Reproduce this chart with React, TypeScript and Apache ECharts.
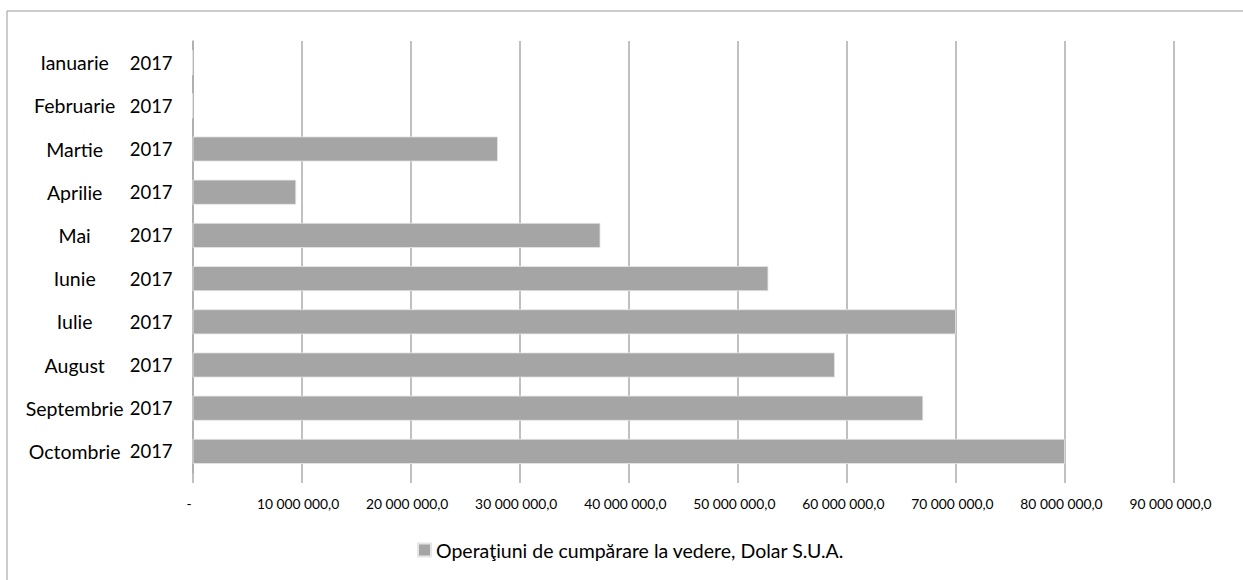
import React, { useEffect, useRef } from "react";
import * as echarts from "echarts";

const months = [
  "Ianuarie",
  "Februarie",
  "Martie",
  "Aprilie",
  "Mai",
  "Iunie",
  "Iulie",
  "August",
  "Septembrie",
  "Octombrie",
];
const year = "2017";
const values = [0, 0, 28000000, 9500000, 37400000, 52800000, 70000000, 58900000, 67000000, 80000000];
const seriesName = "Operaţiuni de cumpărare la vedere, Dolar S.U.A.";
const axisMax = 90000000;
const axisStep = 10000000;

function fmt(v: number): string {
  if (v === 0) return "-";
  const s = Math.round(v).toString().replace(/\B(?=(\d{3})+(?!\d))/g, " ");
  return s + ",0";
}

export default function App() {
  const ref = useRef<HTMLDivElement>(null);
  useEffect(() => {
    if (!ref.current) return;
    const chart = echarts.init(ref.current, undefined, { renderer: "svg" });
    const font = "Lato";
    chart.setOption({
      animation: false,
      backgroundColor: "#ffffff",
      graphic: [
        {
          type: "rect",
          shape: { x: 7, y: 11, width: 1400, height: 800 },
          style: { fill: "none", stroke: "#9a9a9a", lineWidth: 1 },
          silent: true,
        },
      ],
      grid: { left: 192.6, right: 69, top: 41, bottom: 107, containLabel: false },
      legend: {
        data: [seriesName],
        bottom: 15,
        left: 412,
        icon: "rect",
        itemWidth: 13,
        itemHeight: 13,
        itemGap: 6,
        textStyle: { fontFamily: font, fontSize: 19.5, color: "#000000" },
      },
      xAxis: {
        type: "value",
        min: 0,
        max: axisMax,
        interval: axisStep,
        axisLine: { show: false },
        axisTick: { show: true, length: 10, lineStyle: { color: "#ababab", width: 1.5 } },
        splitLine: { show: true, lineStyle: { color: "#ababab", width: 1.5 } },
        axisLabel: {
          formatter: (v: number) => fmt(v),
          fontFamily: font,
          fontSize: 13.8,
          color: "#000000",
          margin: 23,
          padding: [0, 7, 0, 0],
        },
      },
      yAxis: {
        type: "category",
        inverse: true,
        data: months,
        axisLine: { show: true, lineStyle: { color: "#ababab", width: 1.5 } },
        axisTick: { show: false },
        axisLabel: {
          margin: 20,
          formatter: (v: string) => `{m|${v}}{y|${year}}`,
          rich: {
            m: { width: 110, align: "center", fontFamily: font, fontSize: 19.5, color: "#000000" },
            y: { fontFamily: font, fontSize: 18.5, color: "#000000" },
          },
        },
      },
      series: [
        {
          name: seriesName,
          type: "bar",
          data: values,
          barWidth: 25,
          itemStyle: { color: "#a5a5a5", borderColor: "#e6e6e6", borderWidth: 0.8 },
        },
      ],
    });
    return () => chart.dispose();
  }, []);
  return (
    <div
      ref={ref}
      style={{ position: "absolute", left: 0, top: 0, width: 1243, height: 580 }}
    />
  );
}
